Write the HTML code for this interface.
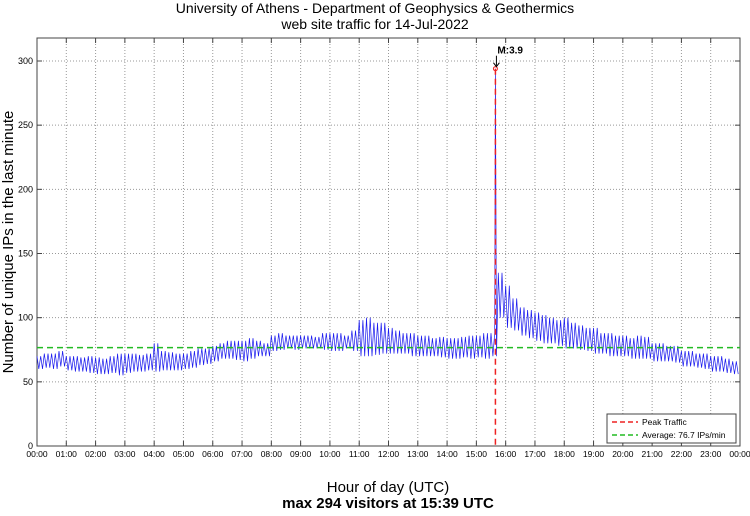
<!DOCTYPE html>
<html><head><meta charset="utf-8"><style>
body{margin:0;background:#fff;width:750px;height:511px;overflow:hidden}
text{font-family:"Liberation Sans",sans-serif}
</style></head><body>
<svg id="chart" width="750" height="511" xmlns="http://www.w3.org/2000/svg">
<text x="375" y="13" font-size="14" text-anchor="middle">University of Athens - Department of Geophysics &amp; Geothermics</text>
<text x="375" y="29" font-size="14" text-anchor="middle">web site traffic for 14-Jul-2022</text>
<text x="388" y="492" font-size="15" text-anchor="middle">Hour of day (UTC)</text>
<text x="388" y="508" font-size="15" font-weight="bold" text-anchor="middle">max 294 visitors at 15:39 UTC</text>
<text transform="translate(13,242) rotate(-90)" font-size="15" text-anchor="middle">Number of unique IPs in the last minute</text>
<g id="grid"></g><g id="series"></g><g id="overlay"></g>
</svg>
<script>
const yTicks=[0,50,100,150,200,250,300];
const xTickLabels=["00:00","01:00","02:00","03:00","04:00","05:00","06:00","07:00","08:00","09:00","10:00","11:00","12:00","13:00","14:00","15:00","16:00","17:00","18:00","19:00","20:00","21:00","22:00","23:00","00:00"];
const binLow=[60,61,60,62,59,58,58,57,56,56,57,55,57,58,58,59,58,59,59,59,60,61,63,64,66,68,68,67,66,68,70,70,74,75,76,75,76,76,76,75,74,74,76,74,70,70,71,72,72,72,72,70,70,70,70,69,68,68,69,68,69,68,70,100,92,90,86,84,82,80,80,78,76,76,75,74,72,72,70,70,70,68,68,68,66,66,66,65,62,62,61,60,58,58,57,56];
const binHigh=[70,72,72,74,70,70,69,70,69,68,70,72,72,72,71,72,80,74,73,72,72,74,76,76,78,80,82,82,82,84,82,80,86,88,86,86,86,86,85,88,88,88,86,90,98,100,96,96,92,90,88,88,86,86,84,85,84,84,85,86,86,88,88,135,125,115,108,106,104,102,100,98,100,96,94,92,92,88,88,86,86,84,86,85,80,80,78,78,74,74,72,72,70,70,68,66];
const peakMinute=939, peakValue=294, averageValue=76.7;
const L=37,R=740,T=38,B=446;
const X=m=>L+(R-L)*m/1440, Y=v=>B-(B-61)*v/300;
const NS="http://www.w3.org/2000/svg";
function mk(tag,at,parent){const e=document.createElementNS(NS,tag);for(const k in at)e.setAttribute(k,at[k]);parent.appendChild(e);return e;}
const g=document.getElementById('grid');
yTicks.forEach(v=>{
 if(v>0){const l=mk('line',{x1:L,x2:R,y1:Y(v),y2:Y(v),stroke:'#999','stroke-dasharray':'1,2','stroke-width':1},g);
 
 }
 mk('line',{x1:L,x2:L+5,y1:Y(v),y2:Y(v),stroke:'#444'},g);mk('line',{x1:R-5,x2:R,y1:Y(v),y2:Y(v),stroke:'#444'},g);
 const t=mk('text',{x:L-4,y:Y(v)+3,'font-size':9,'text-anchor':'end'},g);t.textContent=v;
 
 
});
xTickLabels.forEach((s,i)=>{
 const x=X(i*60);
 if(i>0&&i<24){const l=mk('line',{x1:x,x2:x,y1:T,y2:B,stroke:'#999','stroke-dasharray':'1,2','stroke-width':1},g);
 
 }
 mk('line',{x1:x,x2:x,y1:B-5,y2:B,stroke:'#444'},g);mk('line',{x1:x,x2:x,y1:T,y2:T+5,stroke:'#444'},g);
 const t=mk('text',{x:x,y:B+11,'font-size':8.5,'text-anchor':'middle'},g);t.textContent=s;
 
 
});
const fr=mk('rect',{x:L,y:T,width:R-L,height:B-T,fill:'none',stroke:'#444'},g);


let pts=[];
binLow.forEach((lo,i)=>{const hi=binHigh[i];for(let k=0;k<4;k++){pts.push([i*15+k*3.75,k%2?lo:hi]);}});
pts.push([peakMinute,peakValue]);pts.sort((a,b)=>a[0]-b[0]);
const s=document.getElementById('series');
const pl=mk('polyline',{points:pts.map(p=>X(p[0]).toFixed(1)+','+Y(p[1]).toFixed(1)).join(' '),fill:'none',stroke:'#1a1aee','stroke-width':0.7},s);


const o=document.getElementById('overlay');
const av=mk('line',{x1:L,x2:R,y1:Y(averageValue),y2:Y(averageValue),stroke:'#22bb22','stroke-width':1.5,'stroke-dasharray':'6,4'},o);


const pk=mk('line',{x1:X(peakMinute),x2:X(peakMinute),y1:Y(peakValue),y2:B,stroke:'#ee2222','stroke-width':1.5,'stroke-dasharray':'6,4'},o);


const pm=mk('circle',{cx:X(peakMinute),cy:Y(peakValue),r:2,fill:'none',stroke:'#ee2222'},o);


mk('line',{x1:X(peakMinute)+1,x2:X(peakMinute)+1,y1:Y(peakValue)-13,y2:Y(peakValue)-3,stroke:'#000'},o);
mk('path',{d:`M${X(peakMinute)-2} ${Y(peakValue)-6} L${X(peakMinute)+1} ${Y(peakValue)-2} L${X(peakMinute)+4} ${Y(peakValue)-6}`,fill:'none',stroke:'#000'},o);
const ml=mk('text',{x:X(peakMinute)+2,y:Y(peakValue)-15,'font-size':10,'font-weight':'bold'},o);ml.textContent='M:3.9';


const lg=mk('g',{},o);


mk('rect',{x:607,y:414,width:129,height:29,fill:'#fff',stroke:'#444'},lg);
mk('line',{x1:612,x2:638,y1:422,y2:422,stroke:'#ee2222','stroke-width':1.5,'stroke-dasharray':'5,3'},lg);
mk('line',{x1:612,x2:638,y1:435,y2:435,stroke:'#22bb22','stroke-width':1.5,'stroke-dasharray':'5,3'},lg);
const t1=mk('text',{x:642,y:425,'font-size':8.5},lg);t1.textContent='Peak Traffic';


const t2=mk('text',{x:642,y:438,'font-size':8.5},lg);t2.textContent='Average: 76.7 IPs/min';


</script>
</body></html>
